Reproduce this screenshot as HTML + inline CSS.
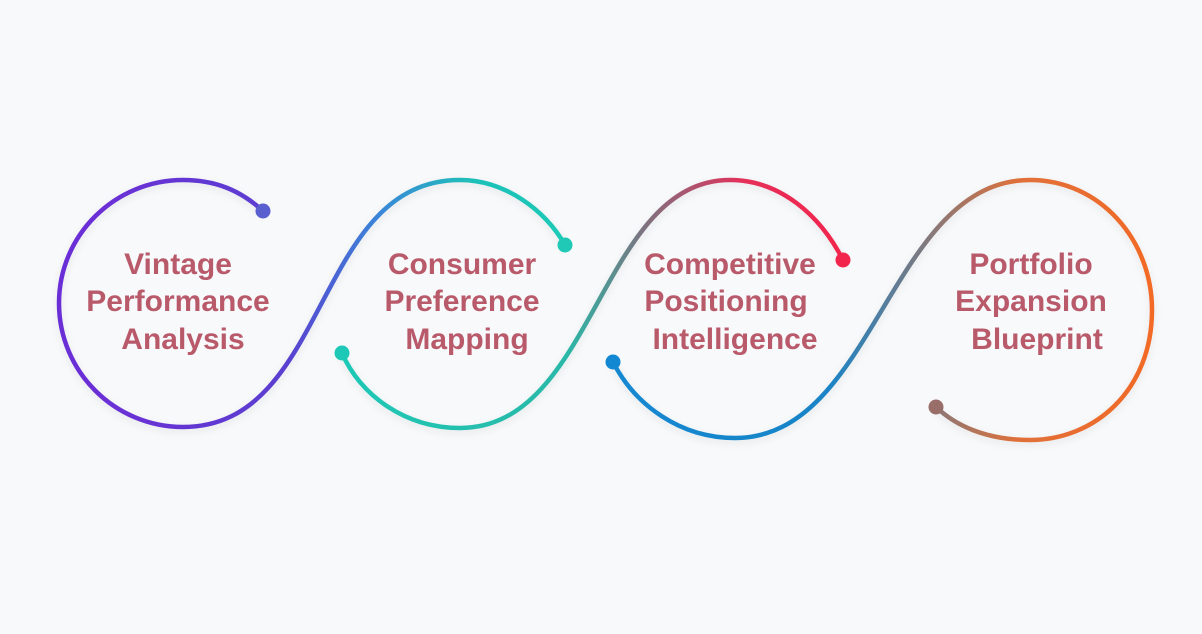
<!DOCTYPE html>
<html><head><meta charset="utf-8"><style>
html,body{margin:0;padding:0;background:#f8f9fb;}
svg{display:block}
text{font-family:"Liberation Sans",sans-serif;font-weight:bold;font-size:30px;fill:#b95a6b;text-anchor:middle}
</style></head><body>
<svg width="1202" height="634" viewBox="0 0 1202 634" xmlns="http://www.w3.org/2000/svg">
<defs>
<linearGradient id="g1" gradientUnits="userSpaceOnUse" x1="100" y1="0" x2="565" y2="0">
<stop offset="0" stop-color="#6b2fd6"/><stop offset="0.4" stop-color="#5a3fd0"/><stop offset="0.6" stop-color="#3a86d8"/><stop offset="0.8" stop-color="#1fc0b8"/><stop offset="1" stop-color="#1fc9b6"/></linearGradient>
<linearGradient id="g2" gradientUnits="userSpaceOnUse" x1="340" y1="0" x2="843" y2="0">
<stop offset="0" stop-color="#1ec8b6"/><stop offset="0.45" stop-color="#2ab8a8"/><stop offset="0.6" stop-color="#7a7480"/><stop offset="0.8" stop-color="#e4305a"/><stop offset="1" stop-color="#f2254c"/></linearGradient>
<linearGradient id="g3" gradientUnits="userSpaceOnUse" x1="613" y1="0" x2="1152" y2="0">
<stop offset="0" stop-color="#1288d2"/><stop offset="0.4" stop-color="#1a84c6"/><stop offset="0.55" stop-color="#6f7a8a"/><stop offset="0.75" stop-color="#e0703a"/><stop offset="1" stop-color="#f26a26"/></linearGradient>
<filter id="sh" x="-10%" y="-10%" width="120%" height="120%"><feDropShadow dx="0" dy="3" stdDeviation="4" flood-color="#000" flood-opacity="0.08"/></filter>
</defs>
<g fill="none" stroke-width="4.5" stroke-linecap="round" filter="url(#sh)">
<path stroke="url(#g1)" d="M263,211 C240,190 215,180 183,180 C115,180 59,235 59,303 C59,372 115,427 183,427 C330,427 313,180 460,180 C505,180 545,210 565,245"/>
<path stroke="url(#g2)" d="M342,353 C360,395 405,428 460,428 C595,428 600,180 730,180 C780,180 820,215 843,260"/>
<path stroke="url(#g3)" d="M613,362 C635,405 680,438 735,438 C875,438 890,180 1030,180 C1100,180 1152,240 1152,310 C1152,390 1095,440 1030,440 C985,440 955,425 936,407"/>
</g>
<circle cx="263" cy="211" r="7.5" fill="#5a5fd0"/>
<circle cx="565" cy="245" r="7.5" fill="#1fc9b6"/>
<circle cx="342" cy="353" r="7.5" fill="#1ec8b6"/>
<circle cx="843" cy="260" r="7.5" fill="#f2254c"/>
<circle cx="613" cy="362" r="7.5" fill="#1288d2"/>
<circle cx="936" cy="407" r="7.5" fill="#9a6e68"/>
<text x="178" y="274">Vintage</text>
<text x="178" y="311">Performance</text>
<text x="183" y="349">Analysis</text>
<text x="462" y="274">Consumer</text>
<text x="462" y="311">Preference</text>
<text x="467" y="349">Mapping</text>
<text x="730" y="274">Competitive</text>
<text x="726" y="311">Positioning</text>
<text x="735" y="349">Intelligence</text>
<text x="1031" y="274">Portfolio</text>
<text x="1031" y="311">Expansion</text>
<text x="1037" y="349">Blueprint</text>
</svg>
</body></html>
